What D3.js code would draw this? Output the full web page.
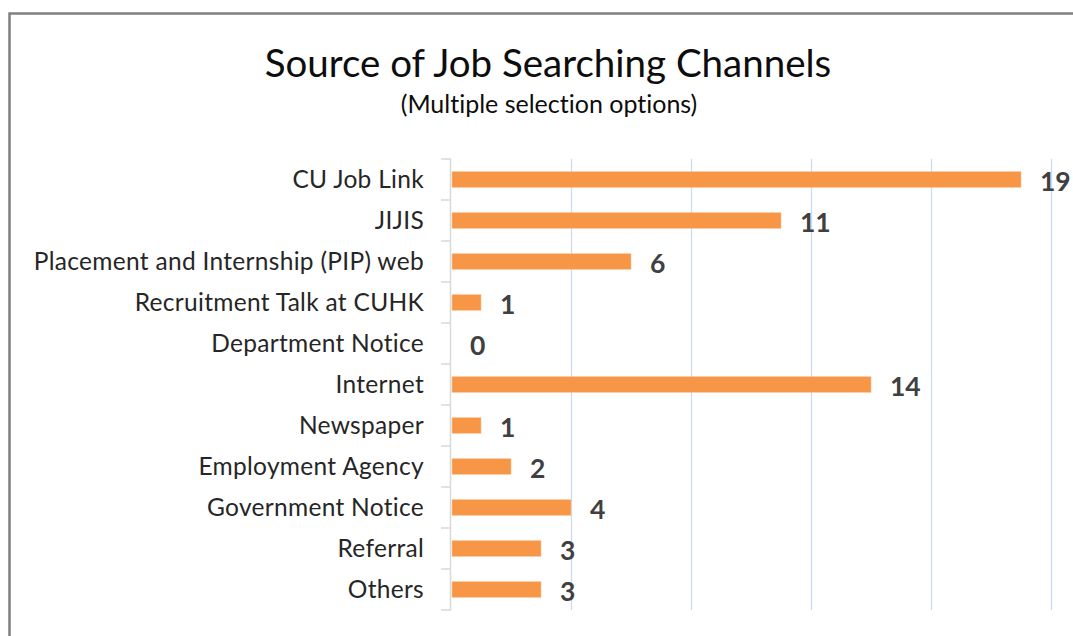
<!DOCTYPE html>
<html>
<head>
<meta charset="utf-8">
<script src="https://cdn.jsdelivr.net/npm/d3@7/dist/d3.min.js"></script>
<style>
  html, body { margin: 0; padding: 0; background: #fff; }
  svg { display: block; font-family: Lato, "Open Sans", sans-serif; font-variant-ligatures: none; }
</style>
</head>
<body>
<svg id="chart" width="1073" height="636"></svg>
<script>
// Job searching channels (multiple selection allowed)
const categories = [
  "CU Job Link",
  "JIJIS",
  "Placement and Internship (PIP) web",
  "Recruitment Talk at CUHK",
  "Department Notice",
  "Internet",
  "Newspaper",
  "Employment Agency",
  "Government Notice",
  "Referral",
  "Others"
];
const counts = [19, 11, 6, 1, 0, 14, 1, 2, 4, 3, 3];
const gridTicks = [4, 8, 12, 16, 20];

const titleText = "Source of Job Searching Channels";
const subtitleText = "(Multiple selection options)";

const svg = d3.select("#chart");
const W = 1073, H = 636;

// outer frame
svg.append("rect")
  .attr("x", 9.5).attr("y", 13.5)
  .attr("width", W + 20).attr("height", H + 20)
  .attr("fill", "#fff")
  .attr("stroke", "#808080")
  .attr("stroke-width", 2.5);

// titles
svg.append("text")
  .attr("x", 548).attr("y", 77)
  .attr("text-anchor", "middle")
  .attr("font-size", 38.5)
  .attr("fill", "#0d0d0d")
  .text(titleText);
svg.append("text")
  .attr("x", 549).attr("y", 113)
  .attr("text-anchor", "middle")
  .attr("font-size", 25)
  .attr("fill", "#0d0d0d")
  .text(subtitleText);

const plot = { left: 451, right: 1051, top: 159, bottom: 610 };

const x = d3.scaleLinear().domain([0, 20]).range([plot.left, plot.right]);
const y = d3.scaleBand()
  .domain(categories)
  .range([plot.top, plot.bottom])
  .paddingInner(0.62)
  .paddingOuter(0.31);

// vertical gridlines
const grid = svg.append("g")
  .attr("transform", `translate(0,${plot.bottom})`)
  .call(d3.axisBottom(x).tickValues(gridTicks).tickSize(-(plot.bottom - plot.top)).tickFormat(""));
grid.select(".domain").remove();
grid.selectAll(".tick line").attr("stroke", "#D0DAEE").attr("stroke-width", 1.3);

// bars
svg.append("g").selectAll("rect")
  .data(categories)
  .join("rect")
  .attr("x", x(0) + 1)
  .attr("y", d => y(d))
  .attr("width", (d, i) => Math.max(0, x(counts[i]) - x(0) - 1))
  .attr("height", y.bandwidth())
  .attr("fill", "#F79646")
  .attr("stroke", "#FBC08F")
  .attr("stroke-width", 0.6)
  .attr("display", (d, i) => counts[i] > 0 ? null : "none");

// category axis with boundary tick marks
const step = y.step();
const gap = step - y.bandwidth();
const bounds = categories.map(c => y(c) - gap / 2).concat([y(categories[categories.length - 1]) + y.bandwidth() + gap / 2]);
const axisG = svg.append("g");
axisG.append("line")
  .attr("x1", plot.left - 0.5).attr("x2", plot.left - 0.5)
  .attr("y1", bounds[0]).attr("y2", bounds[bounds.length - 1])
  .attr("stroke", "#D9D9D9").attr("stroke-width", 1.5);
axisG.selectAll("line.tick")
  .data(bounds)
  .join("line")
  .attr("class", "tick")
  .attr("x1", plot.left - 10).attr("x2", plot.left)
  .attr("y1", d => d).attr("y2", d => d)
  .attr("stroke", "#D9D9D9").attr("stroke-width", 1.5);

const labelAxis = svg.append("g")
  .attr("transform", `translate(${plot.left - 27},0)`)
  .call(d3.axisLeft(y).tickSize(0).tickPadding(0));
labelAxis.select(".domain").remove();
labelAxis.selectAll("text")
  .attr("font-size", 24.5)
  .attr("letter-spacing", 0.3)
  .attr("font-family", "Lato, sans-serif")
  .attr("dy", "0.36em")
  .attr("fill", "#262626");

// value labels
svg.append("g").selectAll("text")
  .data(categories)
  .join("text")
  .attr("x", (d, i) => x(counts[i]) + 19)
  .attr("y", d => y(d) + y.bandwidth() / 2)
  .attr("dy", "0.42em")
  .attr("font-size", 26.5)
  .attr("font-weight", "bold")
  .attr("fill", "#404040")
  .text((d, i) => counts[i]);
</script>
</body>
</html>
